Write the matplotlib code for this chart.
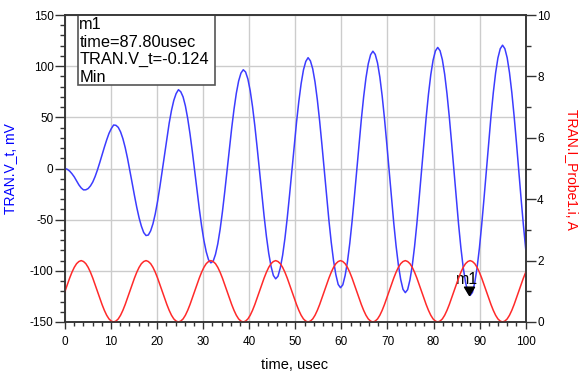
import numpy as np
import matplotlib
matplotlib.use("Agg")
import matplotlib.pyplot as plt
from matplotlib.patches import Rectangle
from matplotlib.ticker import MultipleLocator

plt.rcParams['font.family'] = ['Liberation Sans', 'DejaVu Sans']
plt.rcParams['axes.unicode_minus'] = False

# time axis, usec (200 samples over the run)
time = np.linspace(0, 100, 200)

# TRAN.V_t, mV
v_t = [
    0.0, -0.8, -2.5, -5.1, -8.2, -12.0, -16.0, -19.0, -20.9, -20.8, -19.6, -17.0, -13.2, -7.9,
    -1.5, 5.7, 13.3, 20.8, 27.9, 34.3, 39.0, 42.5, 42.2, 40.2, 35.8, 29.2, 20.5, 10.0,
    -1.9, -14.1, -26.4, -38.0, -48.2, -56.4, -62.6, -65.5, -65.0, -60.9, -54.0, -44.2, -31.9, -17.6,
    -2.0, 14.0, 29.7, 44.3, 56.8, 66.6, 73.2, 77.0, 75.0, 70.0, 61.2, 48.9, 33.8, 16.6,
    -2.0, -20.9, -39.2, -56.0, -70.3, -81.4, -89.2, -92.2, -90.6, -83.9, -73.6, -59.5, -42.3, -22.8,
    -2.0, 19.1, 39.4, 57.8, 73.5, 85.5, 93.2, 96.5, 94.3, 87.4, 76.0, 60.5, 41.7, 20.5,
    -2.0, -24.7, -46.5, -66.3, -82.9, -95.6, -104.5, -107.8, -105.3, -97.1, -84.8, -68.3, -48.3, -25.8,
    -2.0, 22.0, 44.9, 65.6, 83.0, 96.3, 104.6, 108.3, 105.2, 97.4, 84.5, 67.1, 46.2, 22.8,
    -2.0, -26.9, -50.7, -72.1, -90.1, -103.8, -113.3, -116.5, -113.7, -104.6, -91.2, -73.3, -51.7, -27.5,
    -2.0, 23.6, 48.0, 70.0, 88.5, 102.4, 111.2, 114.6, 111.5, 103.1, 89.3, 70.9, 48.8, 24.1,
    -2.0, -28.2, -53.1, -75.5, -94.2, -108.4, -118.1, -121.3, -118.4, -108.9, -94.9, -76.1, -53.6, -28.5,
    -2.0, 24.6, 49.8, 72.6, 91.6, 105.9, 114.9, 118.3, 115.1, 106.3, 92.1, 73.1, 50.3, 24.8,
    -2.0, -28.9, -54.4, -77.4, -96.6, -111.1, -120.9, -124.0, -121.1, -111.4, -97.0, -77.8, -54.8, -29.1,
    -2.0, 25.1, 50.9, 74.0, 93.4, 108.0, 117.0, 120.5, 117.1, 108.2, 93.6, 74.3, 51.1, 25.3,
    -2.0, -29.3, -55.2, -78.5,
]

# TRAN.I_Probe1.i, A
i_probe = [
    1.00, 1.22, 1.43, 1.62, 1.78, 1.90, 1.97, 2.00, 1.97, 1.90, 1.78, 1.62, 1.43, 1.22,
    1.00, 0.78, 0.57, 0.38, 0.22, 0.10, 0.03, 0.00, 0.03, 0.10, 0.22, 0.38, 0.57, 0.78,
    1.00, 1.22, 1.43, 1.62, 1.78, 1.90, 1.97, 2.00, 1.97, 1.90, 1.78, 1.62, 1.43, 1.22,
    1.00, 0.78, 0.57, 0.38, 0.22, 0.10, 0.03, 0.00, 0.03, 0.10, 0.22, 0.38, 0.57, 0.78,
    1.00, 1.22, 1.43, 1.62, 1.78, 1.90, 1.97, 2.00, 1.97, 1.90, 1.78, 1.62, 1.43, 1.22,
    1.00, 0.78, 0.57, 0.38, 0.22, 0.10, 0.03, 0.00, 0.03, 0.10, 0.22, 0.38, 0.57, 0.78,
    1.00, 1.22, 1.43, 1.62, 1.78, 1.90, 1.97, 2.00, 1.97, 1.90, 1.78, 1.62, 1.43, 1.22,
    1.00, 0.78, 0.57, 0.38, 0.22, 0.10, 0.03, 0.00, 0.03, 0.10, 0.22, 0.38, 0.57, 0.78,
    1.00, 1.22, 1.43, 1.62, 1.78, 1.90, 1.97, 2.00, 1.97, 1.90, 1.78, 1.62, 1.43, 1.22,
    1.00, 0.78, 0.57, 0.38, 0.22, 0.10, 0.03, 0.00, 0.03, 0.10, 0.22, 0.38, 0.57, 0.78,
    1.00, 1.22, 1.43, 1.62, 1.78, 1.90, 1.97, 2.00, 1.97, 1.90, 1.78, 1.62, 1.43, 1.22,
    1.00, 0.78, 0.57, 0.38, 0.22, 0.10, 0.03, 0.00, 0.03, 0.10, 0.22, 0.38, 0.57, 0.78,
    1.00, 1.22, 1.43, 1.62, 1.78, 1.90, 1.97, 2.00, 1.97, 1.90, 1.78, 1.62, 1.43, 1.22,
    1.00, 0.78, 0.57, 0.38, 0.22, 0.10, 0.03, 0.00, 0.03, 0.10, 0.22, 0.38, 0.57, 0.78,
    1.00, 1.22, 1.43, 1.62,
]

# marker m1
m1_time = 87.8
m1_value = -124.0
m1_lines = ["m1", "time=87.80usec", "TRAN.V_t=-0.124", "Min"]

blue = "#3c3cff"
red = "#ff2a2a"
frame = "#333333"

fig = plt.figure(figsize=(5.8, 3.77), dpi=100)
ax = fig.add_axes([65 / 580, 1 - 322 / 377, 460.7 / 580, 307 / 377])
ax2 = ax.twinx()

ax.plot(time, v_t, color=blue, lw=1.1, zorder=3)
ax2.plot(time, i_probe, color=red, lw=1.1)

ax.set_xlim(0, 100)
ax.set_ylim(-150, 150)
ax2.set_ylim(0, 10)

ax.xaxis.set_major_locator(MultipleLocator(10))
ax.xaxis.set_minor_locator(MultipleLocator(2))
ax.yaxis.set_major_locator(MultipleLocator(50))
ax.yaxis.set_minor_locator(MultipleLocator(10))
ax2.yaxis.set_major_locator(MultipleLocator(2))
ax2.yaxis.set_minor_locator(MultipleLocator(1))

ax.grid(True, which='major', color='#cccccc', lw=1.0)

for a in (ax, ax2):
    a.tick_params(which='major', length=7, width=1.0, color=frame, labelsize=8.5, pad=1.2)
    a.tick_params(which='minor', length=3.6, width=1.0, color=frame)
    for s in a.spines.values():
        s.set_color(frame)
        s.set_linewidth(1.1)
ax.tick_params(axis='x', which='major', length=5, pad=5)
ax.tick_params(axis='x', which='minor', length=3)

# marker: tip of the triangle sits on the data point
tri = [(0, 0), (-0.6, 1.0), (0.6, 1.0), (0, 0)]
ax.plot([m1_time], [m1_value], marker=tri, ms=12, color='black', ls='none', zorder=6)
ax.text(m1_time - 0.5, -108, "m1", fontsize=11.5, ha='center', va='center', zorder=6)

# readout box at the top left
ax.add_patch(Rectangle((0.028, 0.772), 0.298, 0.228, transform=ax.transAxes,
                       facecolor='white', edgecolor='#555555', lw=1.2, zorder=5))
for k, line in enumerate(m1_lines):
    ax.text(0.031, 0.954 - k * 0.057, line, transform=ax.transAxes, fontsize=11.8,
            va='baseline', ha='left', zorder=6)

fig.text(10 / 580, 1 - 169 / 377, "TRAN.V_t, mV", rotation=90, color='blue',
         fontsize=10, ha='center', va='center')
fig.text(571.5 / 580, 1 - 169 / 377, "TRAN.I_Probe1.i, A", rotation=270, color='red',
         fontsize=10, ha='center', va='center')
fig.text(295 / 580, 1 - 365 / 377, "time, usec", fontsize=10.5, ha='center', va='center')

fig.savefig("out.png", dpi=100)
